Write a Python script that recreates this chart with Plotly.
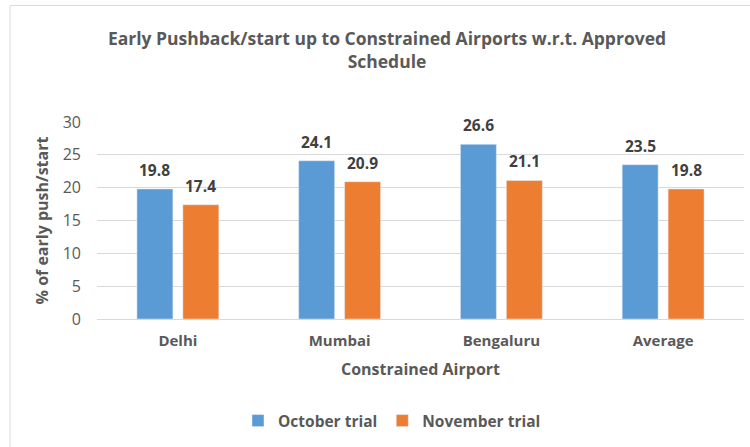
import plotly.graph_objects as go

categories = ["Delhi", "Mumbai", "Bengaluru", "Average"]
october = [19.8, 24.1, 26.6, 23.5]
november = [17.4, 20.9, 21.1, 19.8]
series_names = ["October trial", "November trial"]
y_ticks = [0, 5, 10, 15, 20, 25, 30]

FONT = "Open Sans"
GRAY = "#595959"

fig = go.Figure()
fig.add_trace(go.Bar(x=categories, y=october, name=series_names[0],
                     marker=dict(color="#5B9BD5")))
fig.add_trace(go.Bar(x=categories, y=november, name=series_names[1],
                     marker=dict(color="#ED7D31")))

# data labels above bars
for vals, shift in ((october, -23), (november, 23)):
    for c, v in zip(categories, vals):
        fig.add_annotation(
            x=c, y=v, xref="x", yref="y", text=f"{v:.1f}", showarrow=False,
            xshift=shift, yshift=19, yanchor="middle",
            font=dict(family=FONT, size=15.5, color="#404040", weight="bold"),
        )

W, H = 750, 447
L, R, T, B = 97, 6, 122, 128
pw = W - L - R
ph = H - T - B

def px_to_paper_x(px):
    return (px - L) / pw

def px_to_paper_y(py):
    return (H - B - py) / ph

fig.update_layout(
    width=W, height=H,
    margin=dict(l=L, r=R, t=T, b=B, autoexpand=False),
    paper_bgcolor="white", plot_bgcolor="white",
    barmode="group", bargap=0.432, bargroupgap=0.217,
    title=dict(
        text="Early Pushback/start up to Constrained Airports w.r.t. Approved<br>Schedule",
        x=px_to_paper_x(387), xref="paper", xanchor="center",
        y=1 - 45 / H, yref="container", yanchor="middle",
        font=dict(family=FONT, size=17.5, color=GRAY, weight="bold"),
    ),
    font=dict(family=FONT, color=GRAY),
    showlegend=True,
    legend=dict(
        orientation="h", x=px_to_paper_x(392), xanchor="center",
        y=px_to_paper_y(421), yanchor="middle",
        font=dict(family=FONT, size=15.5, color=GRAY, weight="bold"),
        itemwidth=30, traceorder="normal",
    ),
    xaxis=dict(
        showgrid=False, showline=True, linecolor="#d9d9d9", linewidth=1,
        ticks="", tickfont=dict(family=FONT, size=15, color=GRAY, weight="bold"),
        ticklabelstandoff=8,
        title=dict(text="Constrained Airport", standoff=14,
                   font=dict(family=FONT, size=16, color=GRAY, weight="bold")),
    ),
    yaxis=dict(
        range=[0, 30], tickvals=y_ticks, showgrid=True, gridcolor="#d9d9d9",
        zeroline=False, showline=False, ticks="",
        tickfont=dict(family=FONT, size=16, color=GRAY),
        ticklabelstandoff=15,
        title=dict(text="% of early push/start", standoff=10,
                   font=dict(family=FONT, size=16, color=GRAY, weight="bold")),
    ),
    shapes=[dict(
        type="rect", xref="paper", yref="paper",
        x0=px_to_paper_x(10), x1=px_to_paper_x(770),
        y0=px_to_paper_y(460), y1=px_to_paper_y(5.5),
        line=dict(color="#d9d9d9", width=1), fillcolor="rgba(0,0,0,0)", layer="below",
    )],
)

fig.write_html("out.html", config={"displayModeBar": False},
               post_script="document.body.style.margin='0';")
